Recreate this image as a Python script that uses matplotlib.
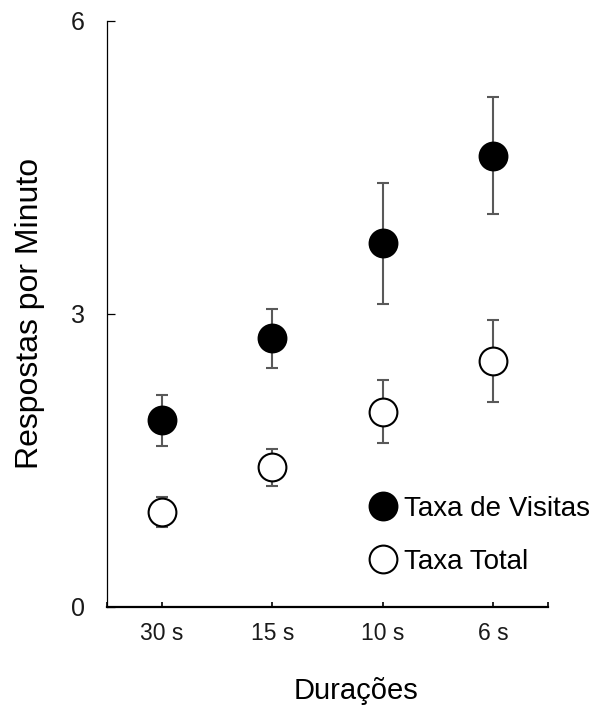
import matplotlib
matplotlib.use("Agg")
import matplotlib.pyplot as plt
import numpy as np

plt.rcParams['font.family'] = ['Liberation Sans', 'DejaVu Sans']

categories = ["30 s", "15 s", "10 s", "6 s"]
visitas = [1.91, 2.75, 3.72, 4.62]
visitas_err = [0.26, 0.30, 0.62, 0.60]
total = [0.97, 1.43, 2.00, 2.52]
total_err = [0.155, 0.19, 0.32, 0.42]
yticks = [0, 3, 6]
ylabel = "Respostas por Minuto"
xlabel = "Durações"
labels = ["Taxa de Visitas", "Taxa Total"]

fig = plt.figure(figsize=(5.94, 7.08), dpi=100)
ax = fig.add_axes([107/594, 1-607/708, 441/594, (607-20.7)/708])

x = np.arange(len(categories))
errc = '#595959'
ax.errorbar(x, visitas, yerr=visitas_err, fmt='none', ecolor=errc, elinewidth=1.5,
            capsize=4, capthick=1.5, zorder=2)
ax.errorbar(x, total, yerr=total_err, fmt='none', ecolor=errc, elinewidth=1.5,
            capsize=4, capthick=1.5, zorder=2)
ax.plot(x, visitas, 'o', ms=20, mfc='black', mec='black', mew=1.5, ls='none',
        label=labels[0], zorder=3)
ax.plot(x, total, 'o', ms=20, mfc='white', mec='black', mew=1.5, ls='none',
        label=labels[1], zorder=3)

ax.set_xlim(-0.5, len(categories) - 0.5)
ax.set_ylim(0, 6)
ax.set_xticks(x)
ax.set_xticklabels(categories)
ax.set_xticks([-0.5, len(categories) - 0.5], minor=True)
ax.set_yticks(yticks)
ax.set_yticklabels([str(v) for v in yticks])

for s in ['top', 'right']:
    ax.spines[s].set_visible(False)
ax.spines['left'].set_linewidth(0.9)
ax.spines['bottom'].set_linewidth(1.6)
ax.tick_params(axis='y', direction='in', length=6, width=0.9, labelsize=18, pad=16,
               colors='black', labelcolor='#1a1a1a')
ax.tick_params(axis='x', which='major', direction='in', length=3.5, width=1.2, labelsize=16.5,
               pad=11, labelcolor='#1a1a1a')
ax.tick_params(axis='x', which='minor', direction='in', length=3.5, width=1.2)

ax.set_ylabel(ylabel, fontsize=23)
ax.yaxis.set_label_coords(-0.14, 0.5)
ax.set_xlabel(xlabel, fontsize=21)
ax.xaxis.set_label_coords(0.565, -0.12)

ax.legend(loc='upper left', bbox_to_anchor=(0.597, 0.19), frameon=False, numpoints=1,
          handlelength=0.9, handletextpad=0.3, labelspacing=0.97, fontsize=20,
          borderaxespad=0, borderpad=0)

fig.savefig("out.png", dpi=100)
